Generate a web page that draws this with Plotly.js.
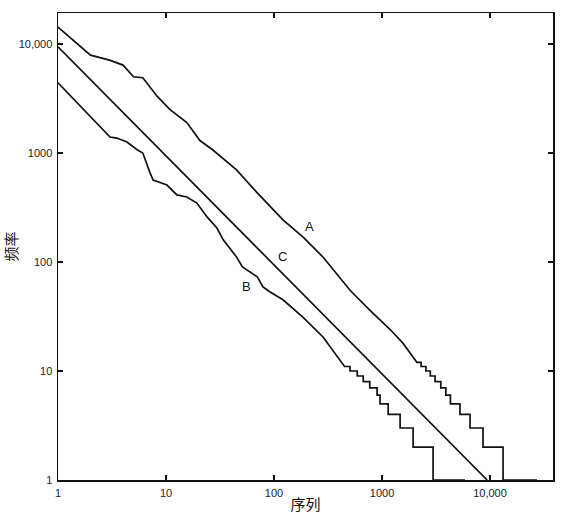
<!DOCTYPE html>
<html>
<head>
<meta charset="utf-8">
<script src="https://cdn.plot.ly/plotly-3.0.1.min.js"></script>
<style>html,body{margin:0;padding:0;background:#fff;}#chart{width:566px;height:519px;}</style>
</head>
<body>
<div id="chart"></div>
<script>
// Curve A: smooth head (rank, frequency) and step tail (frequency level with rank span)
const A_headRank = [1, 2, 3, 4, 5, 6.1, 8.3, 10.9, 15.6, 17.8, 20.6, 27, 45, 70, 121, 186, 284, 506, 774, 1190, 1560, 1820];
const A_headFreq = [14300, 7900, 7100, 6400, 5000, 4900, 3300, 2500, 1900, 1600, 1300, 1070, 700, 430, 243, 169, 111, 55, 36, 24, 18, 14.6];
const A_tailFreq  = [12, 11, 10, 9, 8, 7, 6, 5, 4, 3, 2, 1];
const A_tailStart = [2100, 2300, 2550, 2800, 3100, 3500, 3900, 4300, 5270, 6530, 8610, 13200];
const A_tailEnd   = [2300, 2550, 2800, 3100, 3500, 3900, 4300, 5270, 6530, 8610, 13200, 27200];

// Curve B
const B_headRank = [1, 3.03, 3.5, 4.35, 5.4, 6.1, 7.1, 7.6, 10.2, 12.6, 15.6, 19.3, 24, 29.6, 34, 45, 51, 70, 79, 92, 121, 186, 284, 408];
const B_headFreq = [4400, 1400, 1370, 1260, 1070, 1000, 660, 565, 508, 412, 395, 347, 259, 205, 159, 111, 90, 73, 59, 53, 45, 31, 20.5, 12.6];
const B_tailFreq  = [11, 10, 9, 8, 7, 6, 5, 4, 3, 2, 1];
const B_tailStart = [450, 506, 590, 670, 770, 900, 958, 1140, 1470, 1940, 2970];
const B_tailEnd   = [506, 590, 670, 770, 900, 958, 1140, 1470, 1940, 2970, 5870];

// Curve C: ideal Zipf line
const C_rank = [1, 10, 100, 1000, 9400];
const C_freq = [9400, 940, 94, 9.4, 1];

// Curve labels (rank, frequency)
const labelText = ['A', 'B', 'C'];
const labelRank = [211, 56, 121];
const labelFreq = [210, 60, 113];

// Tick labels
const tickVals = [1, 10, 100, 1000, 10000];
const tickText = ['1', '10', '100', '1000', '10,000'];

function buildCurve(headR, headF, tF, tS, tE) {
  const x = headR.slice(), y = headF.slice();
  for (let i = 0; i < tF.length; i++) {
    x.push(tS[i], tE[i]);
    y.push(tF[i], tF[i]);
  }
  return {x, y};
}

const A = buildCurve(A_headRank, A_headFreq, A_tailFreq, A_tailStart, A_tailEnd);
const B = buildCurve(B_headRank, B_headFreq, B_tailFreq, B_tailStart, B_tailEnd);

const lineStyle = {color: '#111', width: 1.7};
const traces = [
  {x: A.x, y: A.y, mode: 'lines', line: lineStyle, name: 'A'},
  {x: B.x, y: B.y, mode: 'lines', line: lineStyle, name: 'B'},
  {x: C_rank, y: C_freq, mode: 'lines', line: lineStyle, name: 'C'}
];

const tickFont = {family: 'Liberation Sans, DejaVu Sans, sans-serif', size: 11, color: '#222'};
const axisCommon = {
  type: 'log', showgrid: false, zeroline: false,
  showline: true, linecolor: '#111', linewidth: 1.5, mirror: 'ticks',
  ticks: 'inside', ticklen: 5, tickwidth: 1.2, tickcolor: '#111',
  tickmode: 'array', tickvals: tickVals, ticktext: tickText,
  tickfont: tickFont
};

const layout = {
  width: 566, height: 519,
  margin: {l: 58, r: 13, t: 13, b: 39},
  paper_bgcolor: '#fff', plot_bgcolor: '#fff',
  showlegend: false,
  xaxis: Object.assign({}, axisCommon, {
    range: [0, 4.583],
    ticklabelstandoff: 2,
    title: {text: '序列', font: {family: 'Noto Sans CJK SC', size: 15, color: '#111'}, standoff: 2}
  }),
  yaxis: Object.assign({}, axisCommon, {
    range: [0, 4.284],
    ticklabelstandoff: 2,
    title: {text: '频率', font: {family: 'Noto Sans CJK SC', size: 15, color: '#111'}, standoff: 8}
  }),
  annotations: labelText.map((t, i) => ({
    x: Math.log10(labelRank[i]), y: Math.log10(labelFreq[i]),
    xref: 'x', yref: 'y', text: t, showarrow: false,
    font: {family: 'Liberation Sans, DejaVu Sans, sans-serif', size: 13, color: '#111'}
  }))
};

Plotly.newPlot('chart', traces, layout, {staticPlot: true, displayModeBar: false});
</script>
</body>
</html>
